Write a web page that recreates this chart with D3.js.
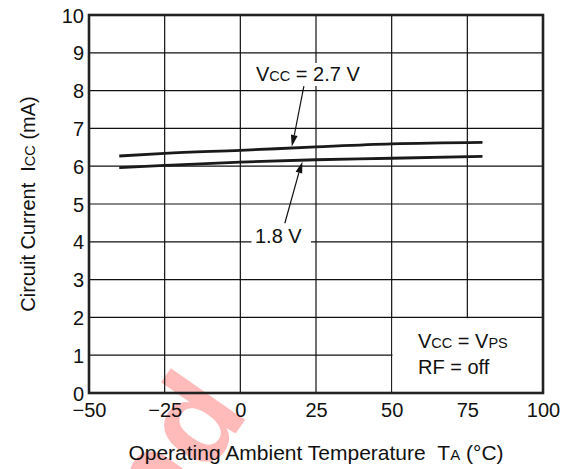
<!DOCTYPE html>
<html>
<head>
<meta charset="utf-8">
<script src="https://cdn.jsdelivr.net/npm/d3@7"></script>
<style>
  html, body { margin: 0; padding: 0; background: #fff; }
  svg { display: block; font-family: "Liberation Sans", Arial, Helvetica, sans-serif; }
</style>
</head>
<body>
<svg id="chart" width="569" height="469"></svg>
<script>
// Supply current vs. ambient temperature, two supply voltages
const temps   = [-40, -25, 0, 25, 50, 80];
const icc27   = [6.27, 6.34, 6.42, 6.51, 6.59, 6.63];
const icc18   = [5.96, 6.02, 6.11, 6.17, 6.21, 6.26];
const xTicks  = [-50, -25, 0, 25, 50, 75, 100];
const yTicks  = [0, 1, 2, 3, 4, 5, 6, 7, 8, 9, 10];

// Callout arrows: [tail temp, tail mA, head temp] (head sits on its curve)
const arrow27 = [21, 8.12, 17];
const arrow18 = [14.7, 4.49, 20.5];

const svg = d3.select("#chart");
const m = { left: 89, right: 543, top: 15, bottom: 393 };

const x = d3.scaleLinear().domain([-50, 100]).range([m.left, m.right]);
const y = d3.scaleLinear().domain([0, 10]).range([m.bottom, m.top]);

const fmt = v => (v < 0 ? "\u2212" + Math.abs(v) : String(v));
const FS = 20, SMALL = 14.5;

// faint watermark behind everything
svg.append("text")
  .attr("transform", "translate(250,413) rotate(-55)")
  .attr("text-anchor", "end")
  .attr("font-size", 125)
  .attr("font-weight", "bold")
  .attr("fill", "#ff0000")
  .attr("fill-opacity", 0.27)
  .text("nd");

// grid
const grid = svg.append("g").attr("stroke", "#111").attr("stroke-width", 1.2);
grid.selectAll("line.v").data(xTicks.slice(1, -1)).join("line")
  .attr("x1", d => x(d)).attr("x2", d => x(d))
  .attr("y1", y(10)).attr("y2", y(0));
grid.selectAll("line.h").data(yTicks.slice(1, -1)).join("line")
  .attr("class", "h")
  .attr("x1", x(-50)).attr("x2", x(100))
  .attr("y1", d => y(d)).attr("y2", d => y(d));

// conditions box clears the grid in its corner
svg.append("rect")
  .attr("x", x(50) + 0.8).attr("y", y(2) + 0.8)
  .attr("width", x(100) - x(50) - 0.8).attr("height", y(0) - y(2) - 0.8)
  .attr("fill", "#fff");

// frame
svg.append("rect")
  .attr("x", m.left).attr("y", m.top)
  .attr("width", m.right - m.left).attr("height", m.bottom - m.top)
  .attr("fill", "none").attr("stroke", "#222").attr("stroke-width", 2.6);

// tick labels
const xAxis = d3.axisBottom(x).tickValues(xTicks).tickFormat(fmt).tickSize(0).tickPadding(0);
const gx = svg.append("g").attr("transform", `translate(0,${m.bottom})`).call(xAxis);
gx.select(".domain").remove();
gx.selectAll("text").attr("dy", null).attr("y", 23.5)
  .attr("font-size", FS).attr("font-family", "Liberation Sans, Arial, sans-serif").attr("fill", "#111");

const yAxis = d3.axisLeft(y).tickValues(yTicks).tickFormat(fmt).tickSize(0).tickPadding(0);
const gy = svg.append("g").attr("transform", `translate(${m.left - 5},0)`).call(yAxis);
gy.select(".domain").remove();
gy.selectAll("text").attr("dy", "0.35em").attr("x", 0)
  .attr("font-size", FS).attr("font-family", "Liberation Sans, Arial, sans-serif").attr("fill", "#111");

// curves
const line = d3.line().x(d => x(d[0])).y(d => y(d[1])).curve(d3.curveMonotoneX);
[icc27, icc18].forEach(vals => {
  svg.append("path")
    .datum(temps.map((t, i) => [t, vals[i]]))
    .attr("d", line)
    .attr("fill", "none").attr("stroke", "#1a1a1a").attr("stroke-width", 2.8);
});

// callouts
function valueAt(t, vals) {
  return d3.scaleLinear().domain(temps).range(vals)(t);
}
function drawArrow(a, vals) {
  const x1 = x(a[0]), y1 = y(a[1]);
  const x2 = x(a[2]), y2 = y(valueAt(a[2], vals));
  const dx = x2 - x1, dy = y2 - y1, len = Math.hypot(dx, dy);
  const ux = dx / len, uy = dy / len;
  const hl = 13, hw = 3.4;
  const bx = x2 - ux * hl, by = y2 - uy * hl;
  svg.append("line").attr("x1", x1).attr("y1", y1).attr("x2", bx).attr("y2", by)
    .attr("stroke", "#111").attr("stroke-width", 1.2);
  svg.append("path")
    .attr("d", `M${x2},${y2 - uy * 1.5}L${bx - uy * hw},${by + ux * hw}L${bx + uy * hw},${by - ux * hw}Z`)
    .attr("fill", "#111");
}
drawArrow(arrow27, icc27);
drawArrow(arrow18, icc18);

function label(xp, yp, parts, bg) {
  if (bg) {
    svg.append("rect").attr("x", bg[0]).attr("y", bg[1]).attr("width", bg[2]).attr("height", bg[3]).attr("fill", "#fff");
  }
  const t = svg.append("text").attr("x", xp).attr("y", yp).attr("fill", "#111").attr("font-size", FS);
  parts.forEach(p => t.append("tspan").attr("font-size", p[1]).text(p[0]));
  return t;
}

label(256, 81, [["V", FS], ["CC", SMALL], [" = 2.7 V", FS]], [250, 63, 118, 23]);
label(255, 243, [["1.8 V", FS]], [251.5, 227, 59.5, 21]);

label(418, 347.5, [["V", FS], ["CC", SMALL], [" = V", FS], ["PS", SMALL]]);
label(418, 373.5, [["RF = off", FS]]);

// axis titles
svg.append("text")
  .attr("x", (m.left + m.right) / 2).attr("y", 460)
  .attr("text-anchor", "middle").attr("font-size", 21).attr("fill", "#111")
  .call(t => {
    t.append("tspan").text("Operating Ambient Temperature\u00a0\u00a0T");
    t.append("tspan").attr("font-size", 15).text("A");
    t.append("tspan").text(" (\u00b0C)");
  });

svg.append("text")
  .attr("transform", `translate(35,${(m.top + m.bottom) / 2}) rotate(-90)`)
  .attr("text-anchor", "middle").attr("font-size", FS).attr("fill", "#111")
  .call(t => {
    t.append("tspan").text("Circuit Current\u00a0\u00a0I");
    t.append("tspan").attr("font-size", SMALL).text("CC");
    t.append("tspan").text(" (mA)");
  });
</script>
</body>
</html>
